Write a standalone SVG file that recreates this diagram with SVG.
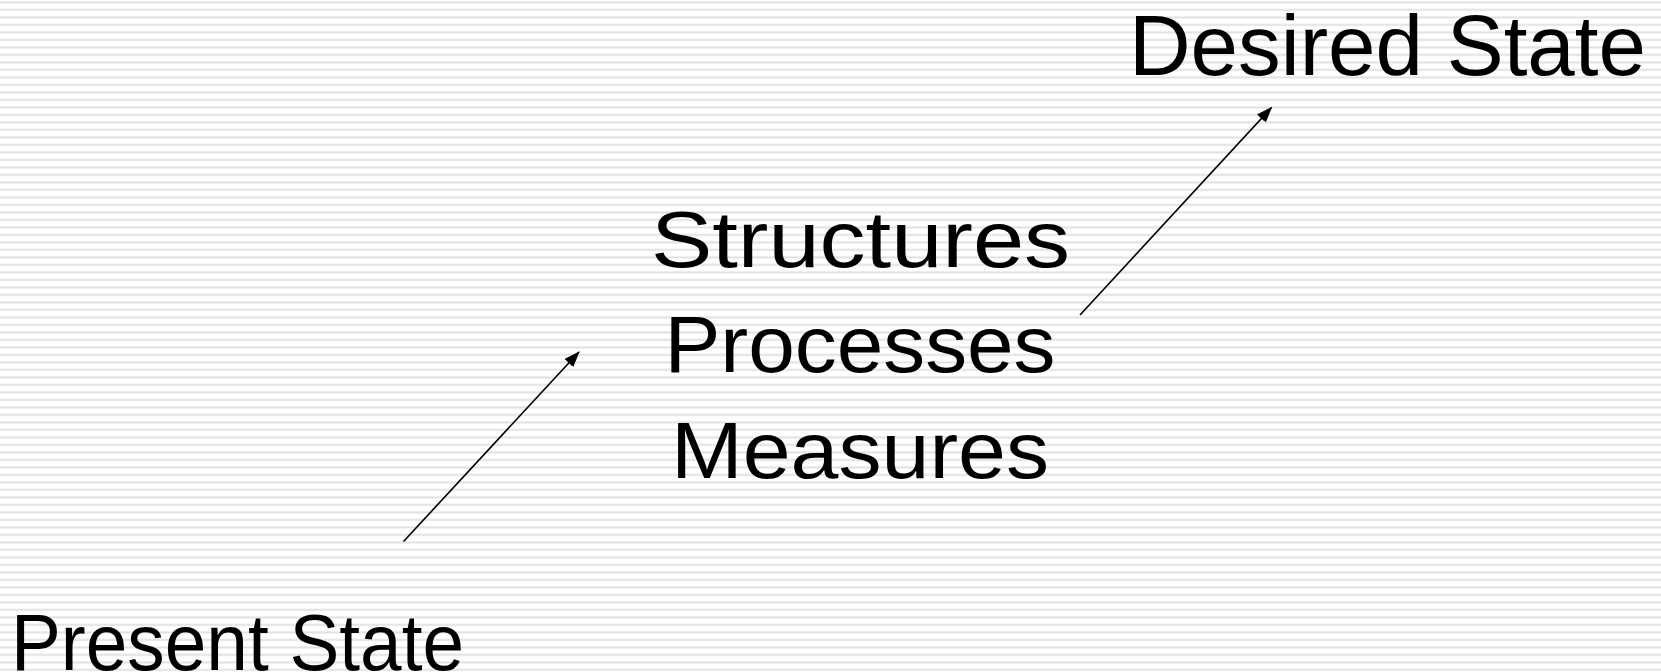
<svg xmlns="http://www.w3.org/2000/svg" width="1661" height="672" viewBox="0 0 1661 672">
<style>
.t{font-family:"Liberation Sans",Arial,sans-serif;fill:#000;}
.c{stroke:#000;stroke-width:1.6;fill:none;}
</style>
<defs>
<pattern id="stripes" x="0" y="0" width="1661" height="7.5" patternUnits="userSpaceOnUse">
<rect x="0" y="1.5" width="1661" height="1.2" fill="#dadada"/>
<rect x="0" y="2.7" width="1661" height="1" fill="#ececec"/>
</pattern>
<marker id="ah" viewBox="0 0 16 12" refX="15" refY="6" markerWidth="16" markerHeight="12" markerUnits="userSpaceOnUse" orient="auto">
<path d="M0,0 L16,6 L0,12 Z" fill="#000"/>
</marker>
</defs>
<rect x="0" y="0" width="1661" height="672" fill="#fff"/>
<rect x="0" y="0" width="1661" height="672" fill="url(#stripes)"/>
<g id="connectors">
<line class="c" x1="403.5" y1="541.5" x2="579" y2="352" marker-end="url(#ah)"/>
<line class="c" x1="1080" y1="315" x2="1271.5" y2="107.5" marker-end="url(#ah)"/>
</g>
<g id="desired">
<text class="t" x="1129" y="75" font-size="86" textLength="517" lengthAdjust="spacingAndGlyphs">Desired State</text>
</g>
<g id="middle">
<text class="t" x="860.5" y="266.7" font-size="79" text-anchor="middle" textLength="419" lengthAdjust="spacingAndGlyphs">Structures</text>
<text class="t" x="860" y="371.7" font-size="79" text-anchor="middle" textLength="391" lengthAdjust="spacingAndGlyphs">Processes</text>
<text class="t" x="860" y="478.3" font-size="79" text-anchor="middle" textLength="378" lengthAdjust="spacingAndGlyphs">Measures</text>
</g>
<g id="present">
<text class="t" x="11" y="670" font-size="79" textLength="453" lengthAdjust="spacingAndGlyphs">Present State</text>
</g>
</svg>
